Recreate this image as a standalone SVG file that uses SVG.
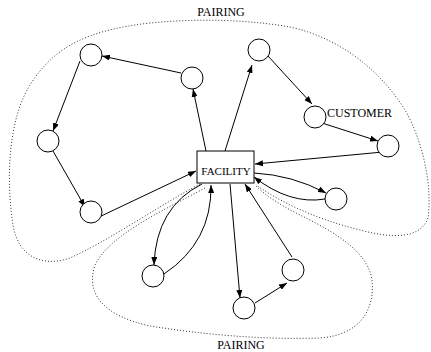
<svg xmlns="http://www.w3.org/2000/svg" width="431" height="352" viewBox="0 0 431 352">
<style>
.node circle{fill:#fff;stroke:#000;stroke-width:1}
.node rect{fill:#fff;stroke:#000;stroke-width:1}
.lbl{font-family:"Liberation Serif","Times New Roman",serif;fill:#000}
.edge{fill:none;stroke:#000;stroke-width:1;marker-end:url(#ah)}
.pair{fill:none;stroke:#333;stroke-width:1;stroke-dasharray:1 2}
</style>
<defs>
<marker id="ah" markerUnits="userSpaceOnUse" markerWidth="9" markerHeight="6" refX="8" refY="3" orient="auto">
<path d="M0,0 L8,3 L0,6 z" fill="#000"/>
</marker>
</defs>
<rect width="431" height="352" fill="#fff"/>
<g id="pairings">
<path class="pair" d="M 200,184 C 160,205 110,240 70,258 C 40,268 18,255 13,225 C 6,180 8,120 30,85 C 55,45 90,30 150,23 C 200,18 250,20 290,27 C 340,38 380,70 405,110 C 425,145 432,190 428,218 C 420,240 390,238 360,230 C 320,220 285,205 256,185"/>
<path class="pair" d="M 205,188 C 160,212 110,235 95,265 C 85,295 105,316 150,326 C 200,334 260,340 320,338 C 360,335 375,310 372,280 C 368,250 330,230 300,215 C 280,205 265,195 256,186"/>
<text class="lbl" x="221" y="16" font-size="12" text-anchor="middle">PAIRING</text>
<text class="lbl" x="241" y="349" font-size="12" text-anchor="middle">PAIRING</text>
</g>
<g id="connectors">
<path class="edge" d="M 206,151 L 193,89"/>
<path class="edge" d="M 181,73 L 102,56"/>
<path class="edge" d="M 80,61 L 53,131"/>
<path class="edge" d="M 53,151 L 85,207"/>
<path class="edge" d="M 97,218 L 196,171"/>
<path class="edge" d="M 225,151 L 252,65"/>
<path class="edge" d="M 268,56 L 312,104"/>
<path class="edge" d="M 322,123 L 378,141"/>
<path class="edge" d="M 383,152 L 255,164"/>
<path class="edge" d="M 254,173 Q 292,175 326,193"/>
<path class="edge" d="M 325,199 Q 290,205 254,177"/>
<path class="edge" d="M 230,184 L 240,298"/>
<path class="edge" d="M 255,303 L 287,283"/>
<path class="edge" d="M 292,257 L 245,184"/>
<path class="edge" d="M 202,184 Q 156,207 154,265"/>
<path class="edge" d="M 164,274 Q 212,242 211,185"/>
</g>
<g id="facility" class="node">
<rect x="197" y="151" width="57" height="32"/>
<text class="lbl" x="226" y="175" font-size="11" text-anchor="middle">FACILITY</text>
</g>
<g id="n1" class="node"><circle cx="91" cy="55" r="11"/></g>
<g id="n2" class="node"><circle cx="192" cy="78" r="11"/></g>
<g id="n3" class="node"><circle cx="48" cy="141" r="11"/></g>
<g id="n4" class="node"><circle cx="91" cy="212" r="11"/></g>
<g id="n5" class="node"><circle cx="259" cy="50" r="11"/></g>
<g id="customer" class="node"><circle cx="315" cy="117" r="11"/>
<text class="lbl" x="327" y="117" font-size="12">CUSTOMER</text></g>
<g id="n7" class="node"><circle cx="388" cy="146" r="11"/></g>
<g id="n8" class="node"><circle cx="336" cy="199" r="11"/></g>
<g id="n9" class="node"><circle cx="293" cy="270" r="11"/></g>
<g id="n10" class="node"><circle cx="244" cy="308" r="11"/></g>
<g id="n11" class="node"><circle cx="153" cy="276" r="11"/></g>
</svg>
